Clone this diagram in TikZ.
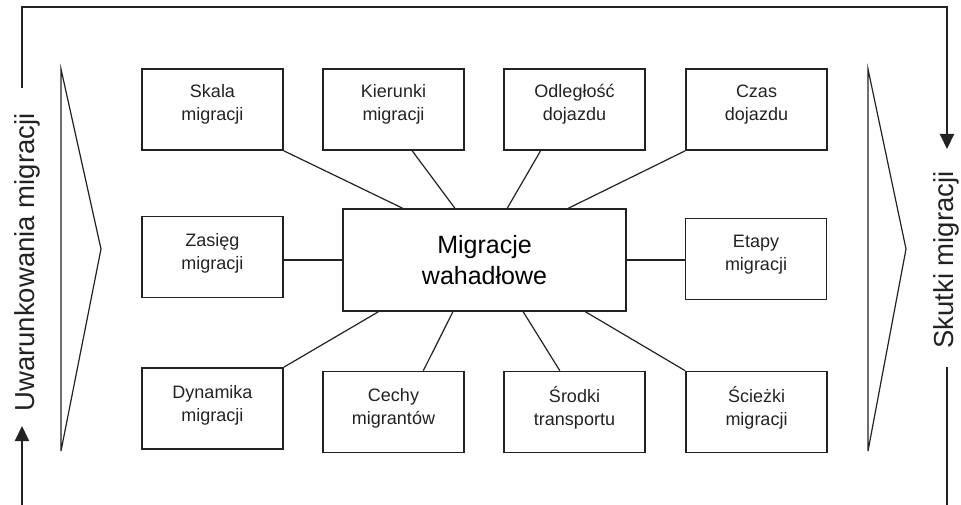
\documentclass[tikz,border=0pt]{standalone}
\usepackage{fontspec}
\setmainfont{Liberation Sans}
\usetikzlibrary{calc,arrows.meta}
\definecolor{ink}{HTML}{222222}
\tikzset{
  catbox/.style={draw=ink, line width=1.6pt, minimum width=141pt, minimum height=81pt, inner sep=0pt},
  mainbox/.style={draw=ink, line width=1.6pt, minimum width=283pt, minimum height=102pt, inner sep=0pt, align=center, font=\fontsize{25}{31}\selectfont},
  btxt/.style={align=center, inner sep=0pt, font=\fontsize{18}{22.7}\selectfont, text=ink},
  sidetxt/.style={rotate=90, anchor=base, inner sep=0pt, font=\fontsize{27.5}{33}\selectfont, text=ink},
  link/.style={draw=ink, line width=1.2pt},
  chev/.style={draw=ink, line width=1.2pt, line join=miter},
  frame/.style={draw=ink, line width=2pt},
  tip/.style={-{Triangle[width=14pt,length=15pt]}}
}
\begin{document}
\begin{tikzpicture}[x=1pt,y=-1pt]
\useasboundingbox (0,0) rectangle (961,505);
% category boxes
\node[catbox] (skala) at (212.5,109.5) {};
\node[btxt] at ($(skala.center)+(0,-5)$) {Skala\\migracji};
\node[catbox] (kier) at (393.5,109.5) {};
\node[btxt] at ($(kier.center)+(0,-5)$) {Kierunki\\migracji};
\node[catbox] (odl) at (574.5,109.5) {};
\node[btxt] at ($(odl.center)+(0,-5)$) {Odległość\\dojazdu};
\node[catbox] (czas) at (756.5,109.5) {};
\node[btxt] at ($(czas.center)+(0,-5)$) {Czas\\dojazdu};
\node[catbox] (zas) at (212.5,257) {};
\node[btxt] at ($(zas.center)+(0,-4)$) {Zasięg\\migracji};
\node[catbox] (etap) at (756,259) {};
\node[btxt] at ($(etap.center)+(0,-4)$) {Etapy\\migracji};
\node[catbox] (dyn) at (212.5,408.5) {};
\node[btxt] at ($(dyn.center)+(0,-3)$) {Dynamika\\migracji};
\node[catbox] (cech) at (393.5,412) {};
\node[btxt] at ($(cech.center)+(0,-4)$) {Cechy\\migrantów};
\node[catbox] (srod) at (574.5,412) {};
\node[btxt] at ($(srod.center)+(0,-4)$) {Środki\\transportu};
\node[catbox] (scie) at (756.5,412) {};
\node[btxt] at ($(scie.center)+(0,-4)$) {Ścieżki\\migracji};
% central box
\node[mainbox] (c) at (484.5,260) {Migracje\\wahadłowe};
% connectors
\draw[link] (skala.south east) -- ($(c.north west)!0.212!(c.north east)$);
\draw[link] ($(kier.south west)!0.631!(kier.south east)$) -- ($(c.north west)!0.396!(c.north east)$);
\draw[link] ($(odl.south west)!0.262!(odl.south east)$) -- ($(c.north west)!0.58!(c.north east)$);
\draw[link] (czas.south west) -- ($(c.north west)!0.795!(c.north east)$);
\draw[link] (c.west) -- (c.west -| zas.east);
\draw[link] (c.east) -- (c.east -| etap.west);
\draw[link] (dyn.north east) -- ($(c.south west)!0.127!(c.south east)$);
\draw[link] ($(cech.north west)!0.709!(cech.north east)$) -- ($(c.south west)!0.389!(c.south east)$);
\draw[link] ($(srod.north west)!0.397!(srod.north east)$) -- ($(c.south west)!0.636!(c.south east)$);
\draw[link] (scie.north west) -- ($(c.south west)!0.855!(c.south east)$);
% chevrons
\draw[chev] (61,69) -- (61,451) -- (101,249) -- cycle;
\draw[chev] (868,69) -- (868,451) -- (906,249) -- cycle;
% side texts
\node[sidetxt] (lt) at (34,262.5) {Uwarunkowania migracji};
\node[sidetxt] (rt) at (953,260) {Skutki migracji};
% frame
\coordinate (a1) at (22,88);
\coordinate (a2) at (22,7.5);
\coordinate (a3) at (947,7.5);
\coordinate (a4) at (947,149);
\coordinate (b1) at (22,505);
\coordinate (b2) at (22,426);
\coordinate (d1) at (947,367);
\coordinate (d2) at (947,505);
\draw[frame, tip] (a1) -- (a2) -- (a3) -- (a4);
\draw[frame, tip] (b1) -- (b2);
\draw[frame] (d1) -- (d2);
\end{tikzpicture}
\end{document}
